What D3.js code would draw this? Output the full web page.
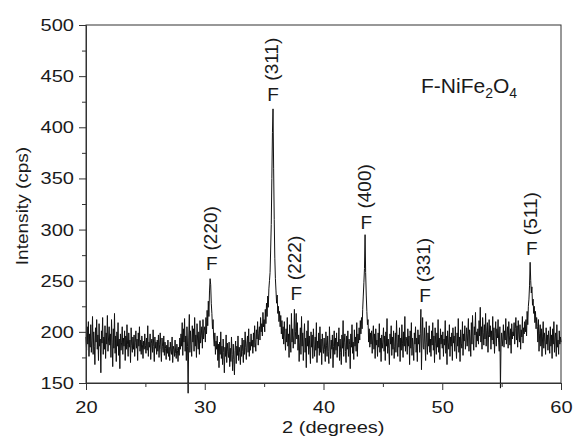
<!DOCTYPE html>
<meta charset="utf-8">
<head>
    <title>F-NiFe2O4 XRD</title>
    <script type="text/javascript" src="https://d3js.org/d3.v7.min.js"></script>
    <style>
        body { margin: 0; background: #fff; }
        text { font-family: "Liberation Sans", Arial, sans-serif; fill: #1a1a1a; }
    </style>
</head>
<body>
<script>

// intensity (cps), one row per degree, step 0.05 deg starting at 20.00
var intensity = [].concat(
 [195,182,205,188,210,176,198,185,207,180,192,215,178,200,186,168,204,190,212,183], // 20
 [197,172,208,186,193,160,201,189,214,178,195,183,206,174,199,188,216,181,194,205], // 21
 [187,198,175,212,190,166,203,184,218,179,196,171,200,186,209,177,193,164,198,182], // 22
 [190,205,178,194,186,201,172,196,183,207,188,176,199,185,192,170,204,187,180,195], // 23
 [183,197,176,190,201,184,193,172,199,186,205,181,192,178,196,188,174,191,183,198], // 24
 [187,179,194,182,206,176,190,185,198,173,189,193,180,202,186,171,195,184,190,178], // 25
 [192,181,197,175,188,199,183,171,194,186,180,196,177,190,184,173,187,179,192,176], // 26
 [185,172,190,181,178,195,170,186,183,176,192,179,174,188,182,171,185,177,194,183], // 27
 [198,186,209,177,203,190,213,181,196,172,205,186,140,194,217,180,201,188,176,206], // 28
 [190,203,181,214,186,197,175,208,192,183,200,178,211,189,196,205,184,212,193,201], // 29
 [205,190,214,198,221,206,230,215,240,252,246,228,218,203,212,194,186,199,178,191], // 30
 [183,196,172,188,165,190,178,200,174,186,168,193,180,160,185,176,197,170,189,181], // 31
 [175,190,166,184,171,195,178,162,188,173,158,182,191,169,186,177,196,172,185,180], // 32
 [168,187,176,194,181,170,192,178,200,185,173,189,196,180,203,176,190,182,198,186], // 33
 [192,179,199,185,206,190,181,202,193,210,187,198,205,192,214,200,208,196,219,205], // 34
 [212,200,222,208,228,215,235,224,242,250,258,280,305,350,395,418,360,310,272,252], // 35
 [240,228,236,218,225,210,220,205,216,198,211,193,205,188,210,195,182,203,190,214], // 36
 [186,198,175,207,191,180,218,190,203,184,196,222,188,200,218,193,209,182,197,171], // 37
 [190,204,178,215,186,199,172,193,208,180,194,165,201,186,211,178,196,183,169,200], // 38
 [185,197,174,203,188,176,195,182,209,170,191,184,199,177,205,180,193,168,198,186], // 39
 [179,194,183,171,200,187,176,196,181,169,205,188,174,192,183,197,165,186,201,178], // 40
 [194,182,199,175,190,186,204,172,193,180,168,197,184,211,176,190,198,181,170,196], // 41
 [183,201,176,193,188,164,198,185,207,179,190,173,202,186,195,181,209,176,198,189], // 42
 [204,192,211,198,214,203,222,235,248,262,295,258,236,220,207,212,190,203,185,199], // 43
 [188,201,179,195,206,183,198,174,203,187,192,176,199,185,208,180,194,171,197,184], // 44
 [190,204,181,196,172,200,186,213,179,193,184,168,198,188,206,177,195,183,201,174], // 45
 [186,199,180,211,190,176,197,185,204,171,194,182,207,189,175,200,186,215,181,195], // 46
 [192,178,203,186,196,168,201,184,209,177,194,186,172,199,188,205,180,194,171,202], // 47
 [188,197,180,198,222,163,195,214,185,183,204,188,172,210,190,178,199,186,206,180], // 48
 [193,176,201,187,209,182,196,170,204,189,178,199,185,212,180,194,173,203,188,197], // 49
 [184,200,176,193,187,211,179,196,168,201,190,183,207,176,195,186,199,172,204,189], // 50
 [196,181,205,188,174,199,186,213,180,195,171,202,189,184,210,177,198,191,206,183], // 51
 [190,204,186,198,213,181,202,193,176,209,188,216,195,182,205,197,219,185,200,191], // 52
 [203,188,211,196,224,190,205,183,214,199,187,207,193,218,186,201,209,180,197,212], // 53
 [195,206,183,201,192,215,188,204,179,198,210,186,203,194,212,190,181,205,145,188], // 54
 [199,186,193,207,185,201,192,213,188,197,205,184,210,196,187,203,179,208,193,200], // 55
 [196,209,188,203,214,192,206,185,211,197,190,207,183,202,195,215,189,204,198,210], // 56
 [200,212,196,220,207,225,232,245,268,250,238,244,226,232,218,225,209,220,203,214], // 57
 [205,190,212,181,198,207,186,203,176,195,210,184,199,191,178,204,188,197,182,201], // 58
 [192,179,205,186,197,174,203,188,210,180,194,199,176,207,185,192,178,201,188,195], // 59
 [190]                                                                               // 60
)
var twoTheta = intensity.map(function(d, i) { return 20 + i * 0.05 })

// peak labels
var peakHkl = ["(220)", "(311)", "(222)", "(400)", "(331)", "(511)"]
var peakPos = [30.6, 35.75, 37.7, 43.6, 48.55, 57.55]
var peakLabelLevel = [260, 426, 231, 301, 229, 275]

var xTicks = [20, 30, 40, 50, 60]
var yTicks = [150, 200, 250, 300, 350, 400, 450, 500]
var xMinor = [25, 35, 45, 55]
var yMinor = [175, 225, 275, 325, 375, 425, 475]

var w = 577
var h = 439
var mLeft = 86, mRight = 561, mTop = 25, mBottom = 383
var stretch = 1.18

var svg = d3.select("body").append("svg").attr("width", w).attr("height", h)

var x = d3.scaleLinear().domain([20, 60]).range([mLeft, mRight])
var y = d3.scaleLinear().domain([150, 500]).range([mBottom, mTop])

// frame
svg.append("rect")
    .attr("x", mLeft).attr("y", mTop)
    .attr("width", mRight - mLeft).attr("height", mBottom - mTop)
    .style("fill", "none").style("stroke", "#333").style("stroke-width", 1)

// data line
var line = d3.line()
    .x(function(d, i) { return x(twoTheta[i]) })
    .y(function(d) { return y(d) })

svg.append("path")
    .datum(intensity)
    .attr("d", line)
    .style("fill", "none")
    .style("stroke", "#111")
    .style("stroke-width", 1)

// axes
var xAxis = svg.append("g")
    .attr("transform", "translate(0," + mBottom + ")")
    .call(d3.axisBottom(x).tickValues(xTicks).tickSize(7).tickPadding(11).tickSizeOuter(0).tickFormat(d3.format("d")))
var xAxisMinor = svg.append("g")
    .attr("transform", "translate(0," + mBottom + ")")
    .call(d3.axisBottom(x).tickValues(xMinor).tickSize(4).tickSizeOuter(0).tickFormat(""))

var yAxis = svg.append("g")
    .attr("transform", "translate(" + mLeft + ",0)")
    .call(d3.axisLeft(y).tickValues(yTicks).tickSize(7).tickPadding(5).tickSizeOuter(0).tickFormat(d3.format("d")))
var yAxisMinor = svg.append("g")
    .attr("transform", "translate(" + mLeft + ",0)")
    .call(d3.axisLeft(y).tickValues(yMinor).tickSize(4).tickSizeOuter(0).tickFormat(""))

svg.selectAll(".domain").style("stroke", "#333")
svg.selectAll(".tick line").style("stroke", "#333")
svg.selectAll(".tick text")
    .style("font-size", "17px")
    .style("font-family", "Liberation Sans, Arial, sans-serif")
    .style("fill", "#1a1a1a")
xAxis.selectAll(".tick text").attr("transform", "scale(" + stretch + ",1)")
yAxis.selectAll(".tick text")
    .attr("x", -12 / stretch)
    .attr("transform", "scale(" + stretch + ",1)")

// axis titles
svg.append("text")
    .attr("transform", "translate(282,433) scale(" + stretch + ",1)")
    .style("font-size", "17px")
    .text("2  (degrees)")

svg.append("text")
    .attr("transform", "translate(28,206) rotate(-90) scale(1.12,1)")
    .attr("text-anchor", "middle")
    .style("font-size", "17px")
    .text("Intensity (cps)")

// sample name
var title = svg.append("text")
    .attr("x", 421)
    .attr("y", 93)
    .style("font-size", "21px")
title.append("tspan").text("F-NiFe")
title.append("tspan").attr("dy", 5).style("font-size", "14px").text("2")
title.append("tspan").attr("dy", -5).text("O")
title.append("tspan").attr("dy", 5).style("font-size", "14px").text("4")

// peak labels
var peaks = svg.append("g").selectAll("g")
    .data(peakHkl).enter()
    .append("g")
    .attr("transform", function(d, i) { return "translate(" + x(peakPos[i]) + "," + y(peakLabelLevel[i]) + ")" })

peaks.append("text")
    .attr("text-anchor", "middle")
    .style("font-size", "19px")
    .text("F")

peaks.append("text")
    .attr("transform", "translate(0,-20) rotate(-90)")
    .attr("dy", "0.27em")
    .style("font-size", "19px")
    .text(function(d) { return d })

</script>
</body>
</html>
